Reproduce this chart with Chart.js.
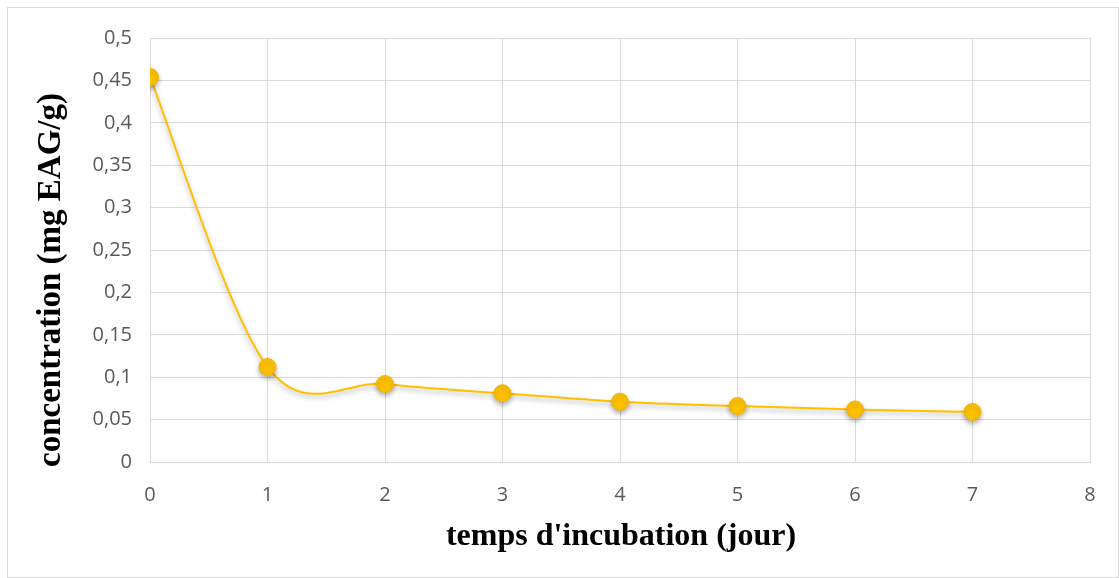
<!DOCTYPE html>
<html>
<head>
<meta charset="utf-8">
<script src="https://cdn.jsdelivr.net/npm/chart.js@4.4.0/dist/chart.umd.min.js"></script>
<style>
  body { margin: 0; background: #fff; width: 1119px; height: 578px; overflow: hidden; }
  #cadre { position: absolute; left: 7px; top: 7px; width: 1112px; height: 571px; border: 1px solid #d9d9d9; box-sizing: border-box; }
  #cadre canvas { position: absolute; left: 0; top: 0; }
</style>
</head>
<body>
<div id="cadre"><canvas id="graphique" width="1111" height="570"></canvas></div>
<script>
/* Données */
const jours = [0, 1, 2, 3, 4, 5, 6, 7];
const concentrations = [0.454, 0.112, 0.092, 0.081, 0.071, 0.066, 0.062, 0.059];
const bornesX = { min: 0, max: 8, pas: 1 };
const bornesY = { min: 0, max: 0.5, pas: 0.05 };
const titreX = "temps d'incubation (jour)";
const titreY = 'concentration (mg EAG/g)';

const points = jours.map((j, i) => ({ x: j, y: concentrations[i] }));

/* Lissage façon Excel (Catmull-Rom, 1/6) + ombre sous la courbe et les marqueurs */
const lissageOmbre = {
  id: 'lissageOmbre',
  beforeDatasetDraw(chart, args) {
    const meta = args.meta;
    const ligne = meta.dataset;
    ligne.updateControlPoints(chart.chartArea, 'x');
    const pts = meta.data;
    for (let i = 0; i < pts.length; i++) {
      const p = pts[i];
      const prec = pts[i - 1] || p;
      const suiv = pts[i + 1] || p;
      const dx = (suiv.x - prec.x) / 6;
      const dy = (suiv.y - prec.y) / 6;
      p.cp1x = p.x - dx; p.cp1y = p.y - dy;
      p.cp2x = p.x + dx; p.cp2y = p.y + dy;
    }
    const ctx = chart.ctx;
    ctx.save();
    ctx.shadowColor = 'rgba(0,0,0,0.3)';
    ctx.shadowBlur = 5;
    ctx.shadowOffsetY = 3;
  },
  afterDatasetDraw(chart) {
    chart.ctx.restore();
  }
};

/* Titres des axes centrés sur tout le graphique */
const titres = {
  id: 'titres',
  afterDraw(chart) {
    const ctx = chart.ctx;
    ctx.save();
    ctx.fillStyle = '#000';
    ctx.textAlign = 'center';
    ctx.textBaseline = 'middle';
    ctx.font = 'bold 32px "Liberation Serif"';
    ctx.fillText(titreX, 613, 529);
    ctx.translate(43, 272);
    ctx.rotate(-Math.PI / 2);
    ctx.font = 'bold 33px "Liberation Serif"';
    ctx.fillText(titreY, 0, 0);
    ctx.restore();
  }
};

const virgule = v => String(Math.round(v * 100) / 100).replace('.', ',');

new Chart(document.getElementById('graphique'), {
  type: 'line',
  data: {
    datasets: [{
      data: points,
      borderColor: '#FFC000',
      borderWidth: 2,
      tension: 0.4,
      pointRadius: 8.5,
      pointBackgroundColor: '#FFC000',
      pointBorderColor: '#F2B600',
      pointBorderWidth: 1
    }]
  },
  options: {
    responsive: false,
    animation: false,
    layout: { padding: { left: 0, right: 29, top: 30, bottom: 0 } },
    plugins: { legend: { display: false }, tooltip: { enabled: false } },
    scales: {
      x: {
        type: 'linear',
        min: bornesX.min, max: bornesX.max,
        afterFit: s => { s.height = 116; },
        ticks: { stepSize: bornesX.pas, padding: 21, color: '#595959', font: { family: 'Open Sans', size: 20 } },
        grid: { color: '#d9d9d9', lineWidth: 1, drawTicks: false },
        border: { color: '#d9d9d9' }
      },
      y: {
        min: bornesY.min, max: bornesY.max,
        afterFit: s => { s.width = 142; },
        ticks: { stepSize: bornesY.pas, padding: 18, color: '#595959', font: { family: 'Open Sans', size: 20 }, callback: virgule },
        grid: { color: '#d9d9d9', lineWidth: 1, drawTicks: false },
        border: { color: '#d9d9d9' }
      }
    }
  },
  plugins: [lissageOmbre, titres]
});
</script>
</body>
</html>
